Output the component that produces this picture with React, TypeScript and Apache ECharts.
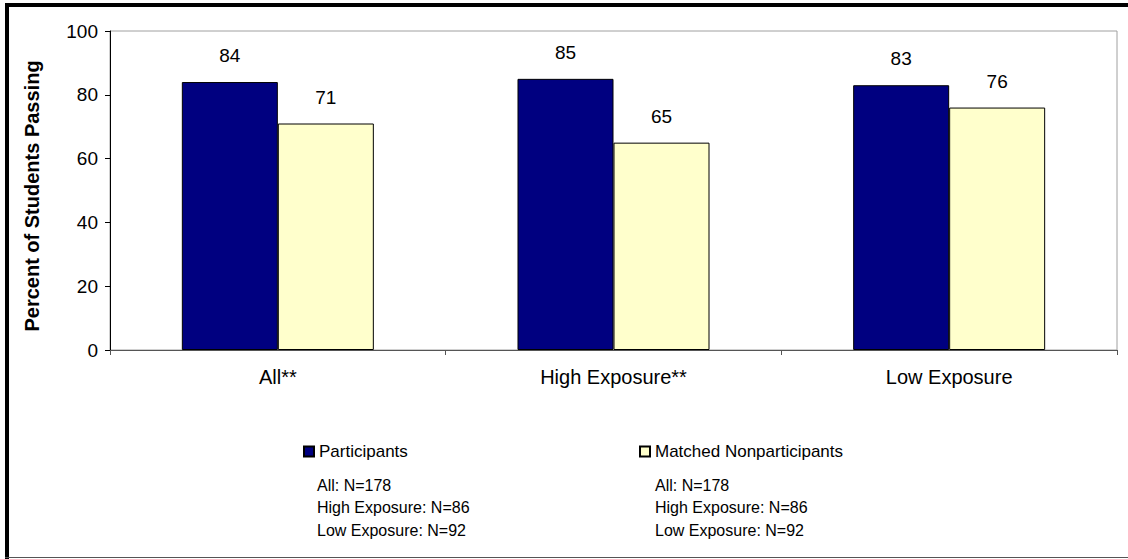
import React, { useEffect, useRef } from "react";
import * as echarts from "echarts";

const categories = ["All**", "High Exposure**", "Low Exposure"];
const participants = [84, 85, 83];
const nonparticipants = [71, 65, 76];
const seriesNames = ["Participants", "Matched Nonparticipants"];
const participantNotes = ["All: N=178", "High Exposure: N=86", "Low Exposure: N=92"];
const nonparticipantNotes = ["All: N=178", "High Exposure: N=86", "Low Exposure: N=92"];
const yTitle = "Percent of Students Passing";

const FONT = '"Liberation Sans", Arial, sans-serif';

export default function App() {
  const ref = useRef<HTMLDivElement>(null);
  useEffect(() => {
    if (!ref.current) return;
    const chart = echarts.init(ref.current, null, { renderer: "svg" });
    const noteLines = (notes: string[], x: number) =>
      notes.map((t, i) => ({
        type: "text",
        x,
        y: 485 + i * 22.5,
        style: {
          text: t,
          font: `16px ${FONT}`,
          fill: "#000",
          textVerticalAlign: "middle",
          textAlign: "left",
        },
      }));
    const option = {
      animation: false,
      backgroundColor: "#fff",
      textStyle: { fontFamily: FONT },
      grid: {
        left: 110,
        top: 31,
        right: 11,
        bottom: 209,
        show: true,
        borderColor: "#a0a0a0",
        borderWidth: 1,
      },
      legend: [
        {
          data: [seriesNames[0]],
          left: 303,
          top: 443,
          padding: 0,
          icon: "rect",
          itemWidth: 10,
          itemHeight: 10,
          textStyle: { fontSize: 17, color: "#000", fontFamily: FONT },
        },
        {
          data: [seriesNames[1]],
          left: 639,
          top: 443,
          padding: 0,
          icon: "rect",
          itemWidth: 10,
          itemHeight: 10,
          textStyle: { fontSize: 17, color: "#000", fontFamily: FONT },
        },
      ],
      xAxis: {
        type: "category",
        data: categories,
        boundaryGap: true,
        axisLine: { show: true, lineStyle: { color: "#555", width: 1 } },
        axisTick: { show: true, length: 5, inside: false, lineStyle: { color: "#555" } },
        axisLabel: { fontSize: 20, color: "#000", margin: 17, fontFamily: FONT },
        splitLine: { show: false },
      },
      yAxis: {
        type: "value",
        min: 0,
        max: 100,
        interval: 20,
        axisLine: { show: true, lineStyle: { color: "#000", width: 1 } },
        axisTick: { show: true, length: 5, lineStyle: { color: "#000" } },
        axisLabel: { fontSize: 19, color: "#000", margin: 12, fontFamily: FONT },
        splitLine: { show: false },
      },
      series: [
        {
          name: seriesNames[0],
          type: "bar",
          data: participants,
          barGap: "0%",
          barCategoryGap: "42.8%",
          itemStyle: { color: "#000080", borderColor: "#000", borderWidth: 1 },
          label: {
            show: true,
            position: "top",
            distance: 17,
            fontSize: 19,
            color: "#000",
            fontFamily: FONT,
          },
        },
        {
          name: seriesNames[1],
          type: "bar",
          data: nonparticipants,
          barGap: "0%",
          barCategoryGap: "42.8%",
          itemStyle: { color: "#FFFFCC", borderColor: "#000", borderWidth: 1 },
          label: {
            show: true,
            position: "top",
            distance: 17,
            fontSize: 19,
            color: "#000",
            fontFamily: FONT,
          },
        },
      ],
      graphic: [
        { type: "rect", shape: { x: 5, y: 3, width: 1123, height: 4 }, style: { fill: "#000" } },
        { type: "rect", shape: { x: 5, y: 3, width: 4, height: 556 }, style: { fill: "#000" } },
        { type: "line", shape: { x1: 5, y1: 557.5, x2: 1128, y2: 557.5 }, style: { stroke: "#555", lineWidth: 1 } },
        {
          type: "text",
          x: 32,
          y: 196,
          rotation: Math.PI / 2,
          style: {
            text: yTitle,
            font: `bold 20px ${FONT}`,
            fill: "#000",
            textAlign: "center",
            textVerticalAlign: "middle",
          },
        },
        ...noteLines(participantNotes, 317),
        ...noteLines(nonparticipantNotes, 655),
      ],
    };
    chart.setOption(option as any);
    return () => chart.dispose();
  }, []);
  return (
    <div
      ref={ref}
      style={{ position: "fixed", left: 0, top: 0, width: 1128, height: 559 }}
    />
  );
}
